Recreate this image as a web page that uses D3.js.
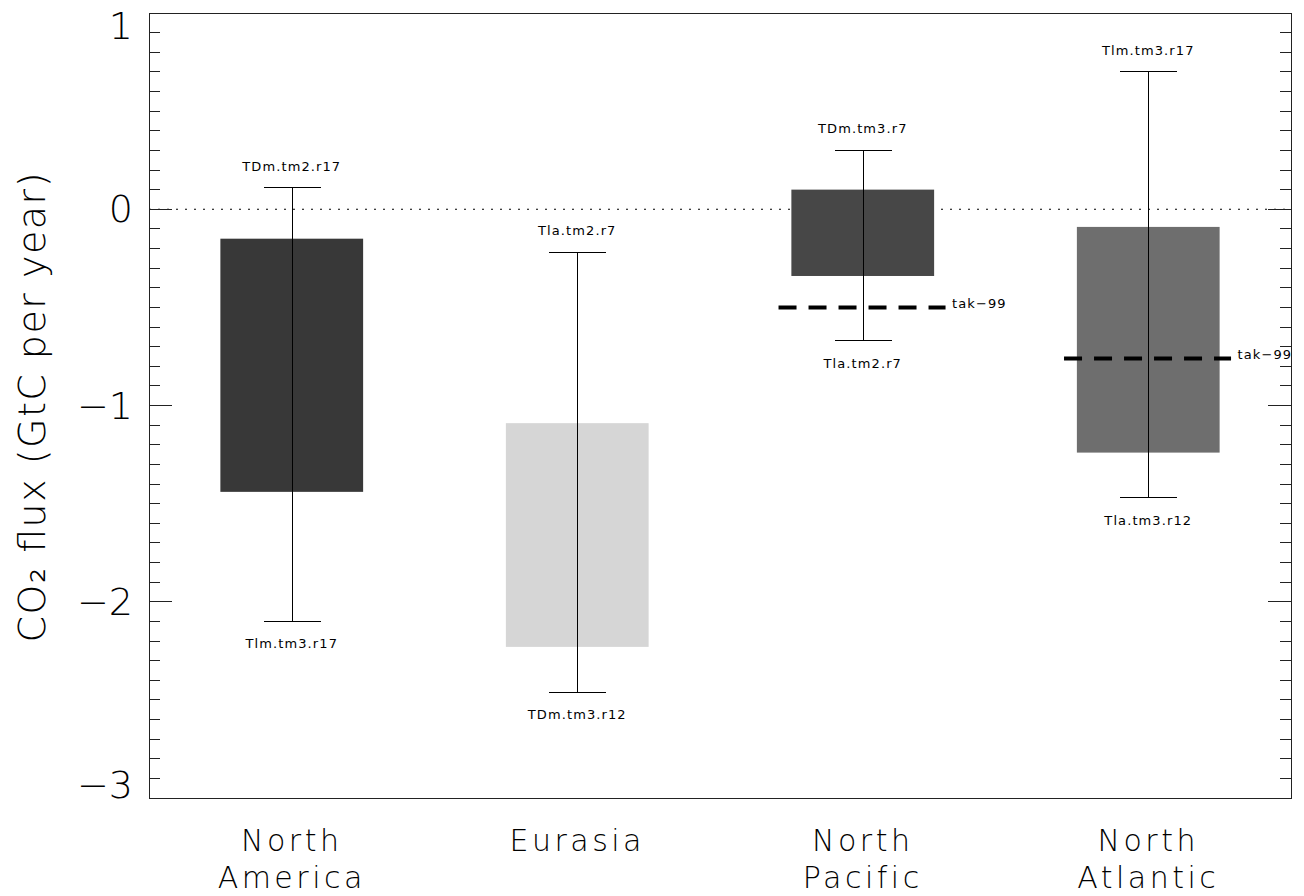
<!DOCTYPE html>
<html>
<head>
<meta charset="utf-8">
<script src="https://cdn.jsdelivr.net/npm/d3@7"></script>
<style>
  html, body { margin: 0; padding: 0; background: #fff; }
  svg { display: block; }
  text { font-family: 'DejaVu Sans ExtraLight', 'DejaVu Sans', sans-serif; font-weight: 200; fill: #000; }
  text.small { font-family: 'DejaVu Sans', sans-serif; font-weight: 400; font-size: 13px; letter-spacing: 1.1px; }
</style>
</head>
<body>
<svg id="chart" width="1304" height="896"></svg>
<script>
const categories = ["North America", "Eurasia", "North Pacific", "North Atlantic"];
const barHigh = [-0.15, -1.09, 0.10, -0.09];
const barLow = [-1.44, -2.23, -0.34, -1.24];
const errHigh = [0.11, -0.22, 0.30, 0.70];
const errLow = [-2.10, -2.46, -0.67, -1.47];
const highLabels = ["TDm.tm2.r17", "Tla.tm2.r7", "TDm.tm3.r7", "Tlm.tm3.r17"];
const lowLabels = ["Tlm.tm3.r17", "TDm.tm3.r12", "Tla.tm2.r7", "Tla.tm3.r12"];
const tak99 = [null, null, -0.50, -0.76];
const barColors = ["#383838", "#d6d6d6", "#474747", "#6e6e6e"];
const yTicks = [1, 0, -1, -2, -3];
const yTickLabels = ["1", "0", "\u22121", "\u22122", "\u22123"];
const refLabel = "tak\u221299";
const yTitle = "CO\u2082 flux (GtC per year)";

const svg = d3.select("#chart");
const L = 149, R = 1291, T = 13, B = 798;

const x = d3.scaleBand().domain(categories).range([L, R]).padding(0);
const y = d3.scaleLinear().domain([-3, 1]).range([B, T]);
const bw = x.bandwidth();
const data = categories.map((c, i) => ({
  c, hi: barHigh[i], lo: barLow[i], eh: errHigh[i], el: errLow[i],
  hl: highLabels[i], ll: lowLabels[i], ref: tak99[i], col: barColors[i]
}));

// zero dotted line
svg.append("line")
  .attr("x1", L).attr("x2", R).attr("y1", y(0)).attr("y2", y(0))
  .attr("stroke", "#000").attr("stroke-width", 1).attr("stroke-dasharray", "2,7");

// bars
svg.selectAll("rect.bar").data(data).enter().append("rect")
  .attr("class", "bar")
  .attr("x", d => x(d.c) + bw / 2 - bw * 0.25)
  .attr("width", bw * 0.5)
  .attr("y", d => y(d.hi))
  .attr("height", d => y(d.lo) - y(d.hi))
  .attr("fill", d => d.col);

// error bars
const eg = svg.append("g").attr("stroke", "#000").attr("stroke-width", 1).attr("shape-rendering", "crispEdges");
data.forEach(d => {
  const cx = Math.round(x(d.c) + bw / 2) + 0.5;
  eg.append("line").attr("x1", cx).attr("x2", cx).attr("y1", y(d.eh)).attr("y2", y(d.el));
  eg.append("line").attr("x1", cx - bw * 0.1).attr("x2", cx + bw * 0.1).attr("y1", y(d.eh)).attr("y2", y(d.eh));
  eg.append("line").attr("x1", cx - bw * 0.1).attr("x2", cx + bw * 0.1).attr("y1", y(d.el)).attr("y2", y(d.el));
});

// error labels
svg.selectAll("text.hl").data(data).enter().append("text")
  .attr("class", "small")
  .attr("x", d => x(d.c) + bw / 2)
  .attr("y", d => y(d.eh) - 17)
  .attr("text-anchor", "middle")
  .text(d => d.hl);
svg.selectAll("text.ll").data(data).enter().append("text")
  .attr("class", "small")
  .attr("x", d => x(d.c) + bw / 2)
  .attr("y", d => y(d.el) + 27)
  .attr("text-anchor", "middle")
  .text(d => d.ll);

// reference dashed lines
const refs = data.filter(d => d.ref !== null);
svg.selectAll("line.ref").data(refs).enter().append("line")
  .attr("x1", d => x(d.c) + bw / 2 - bw * 0.295)
  .attr("x2", d => x(d.c) + bw / 2 + bw * 0.29)
  .attr("y1", d => y(d.ref)).attr("y2", d => y(d.ref))
  .attr("stroke", "#000").attr("stroke-width", 4).attr("stroke-dasharray", "18,12");
svg.selectAll("text.ref").data(refs).enter().append("text")
  .attr("class", "small")
  .attr("x", d => x(d.c) + bw / 2 + bw * 0.313)
  .attr("y", d => y(d.ref) + 1)
  .text(refLabel);

// frame
const fg = svg.append("g").attr("stroke", "#222").attr("stroke-width", 1).attr("shape-rendering", "crispEdges").attr("fill", "none");
fg.append("rect").attr("x", L).attr("y", T).attr("width", R - L).attr("height", B - T);

// y ticks (left axis and right axis)
const minor = d3.range(-30, 11).map(v => v / 10);
minor.forEach(v => {
  const major = Math.abs(v - Math.round(v)) < 1e-9;
  const len = major ? 23 : 11;
  const yy = y(v);
  fg.append("line").attr("x1", L).attr("x2", L + len).attr("y1", yy).attr("y2", yy);
  fg.append("line").attr("x1", R).attr("x2", R - len).attr("y1", yy).attr("y2", yy);
});

// y tick labels
const yAxisG = svg.append("g");
yTicks.forEach((v, i) => {
  let dy = 13;
  if (i === 0) dy = 26;
  if (i === yTicks.length - 1) dy = 0;
  yAxisG.append("text")
    .attr("x", 133).attr("y", y(v) + dy)
    .attr("text-anchor", "end")
    .style("font-size", "38px")
    .text(yTickLabels[i]);
});

// y title
svg.append("text")
  .attr("transform", `translate(45, ${(T + B) / 2 + 2}) rotate(-90)`)
  .attr("text-anchor", "middle")
  .style("font-size", "38px")
  .attr("textLength", 470).attr("lengthAdjust", "spacing")
  .text(yTitle);

// category labels (two separate lines)
const lineY = [851, 888];
data.forEach(d => {
  d.c.split(" ").forEach((w, k) => {
    svg.append("text")
      .attr("x", x(d.c) + bw / 2)
      .attr("y", lineY[k])
      .attr("text-anchor", "middle")
      .style("font-size", "30px").style("letter-spacing", "3.5px")
      .text(w);
  });
});
</script>
</body>
</html>
